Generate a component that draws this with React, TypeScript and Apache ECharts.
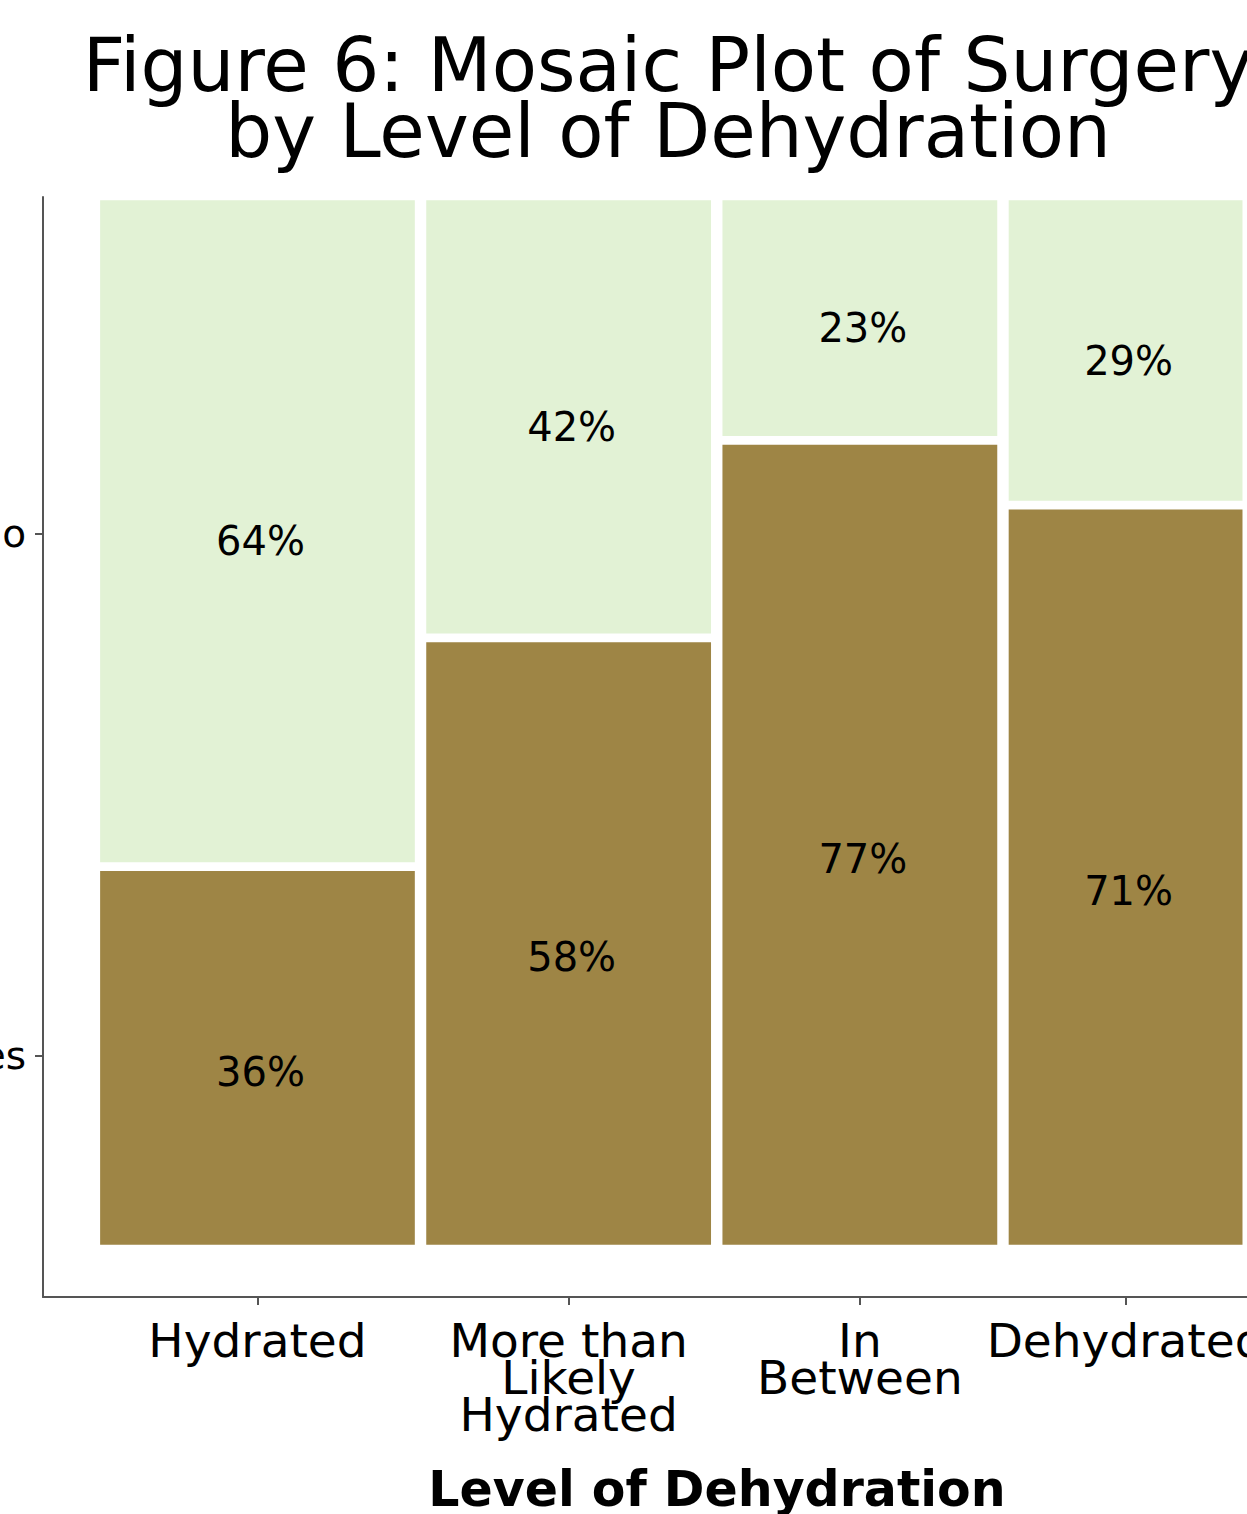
import React, { useEffect, useRef } from "react";
import * as echarts from "echarts";

// ---- Data ----
const categories = ["Hydrated", "More than\nLikely\nHydrated", "In\nBetween", "Dehydrated"];
// share of all cases falling in each level of dehydration (column widths)
const columnShare = [0.284, 0.257, 0.248, 0.211];
// proportion of each level with Surgery = "Yes"
const yesShare = [0.362, 0.581, 0.77, 0.708];
const surgeryLevels = ["Yes", "No"];
const titleLines = ["Figure 6: Mosaic Plot of Surgery", "by Level of Dehydration"];
const xAxisTitle = "Level of Dehydration";

// ---- Styling ----
const COLOR_YES = "#9E8545";
const COLOR_NO = "#E2F2D5";
const AXIS_COLOR = "#555555";
const FONT = '"DejaVu Sans", "Noto Sans", sans-serif';
const GAP_X = 0.01;
const GAP_Y = 0.0085;
const YES_LABEL_DY = 16;
const NO_LABEL_DY = 8;

const columns = (() => {
  const usable = 1 - GAP_X * (columnShare.length - 1);
  let x = 0;
  return columnShare.map((s, i) => {
    const w = s * usable;
    const c = [x, x + w, yesShare[i]];
    x += w + GAP_X;
    return c;
  });
})();
const xCenters = columns.map((c) => (c[0] + c[1]) / 2);
const yCenters = [yesShare[0] / 2, (yesShare[0] + 1) / 2];

const nearest = (arr: number[], v: number) => {
  let best = 0;
  for (let i = 1; i < arr.length; i++) {
    if (Math.abs(arr[i] - v) < Math.abs(arr[best] - v)) best = i;
  }
  return best;
};
const pct = (v: number) => Math.round(v * 100) + "%";

export default function App() {
  const ref = useRef<HTMLDivElement>(null);
  useEffect(() => {
    if (!ref.current) return;
    const chart = echarts.init(ref.current, null, { renderer: "svg" });
    const labelStyle = {
      fill: "#000",
      font: `40px ${FONT}`,
      align: "center",
      verticalAlign: "middle",
    };
    chart.setOption({
      animation: false,
      backgroundColor: "#ffffff",
      title: {
        text: titleLines.join("\n"),
        left: 663,
        top: 27,
        textAlign: "center",
        textStyle: {
          fontFamily: FONT,
          fontSize: 74,
          fontWeight: "normal",
          lineHeight: 66,
          color: "#000",
        },
      },
      grid: {
        left: 43,
        top: 197,
        width: 1348,
        height: 1100,
        containLabel: false,
        outerBoundsMode: "none",
      },
      xAxis: {
        type: "value",
        min: -0.05,
        max: 1.13,
        name: xAxisTitle,
        nameLocation: "middle",
        nameGap: 168,
        nameTextStyle: { fontFamily: FONT, fontSize: 49, fontWeight: "bold", color: "#000" },
        axisLine: { show: true, onZero: false, lineStyle: { color: AXIS_COLOR, width: 2 } },
        axisTick: { show: true, length: 8, customValues: xCenters, lineStyle: { color: AXIS_COLOR, width: 2 } },
        axisLabel: {
          customValues: xCenters,
          margin: 25,
          fontFamily: FONT,
          fontSize: 47,
          lineHeight: 37,
          color: "#000",
          formatter: (v: number) => categories[nearest(xCenters, v)],
        },
        splitLine: { show: false },
      },
      yAxis: {
        type: "value",
        min: -0.05,
        max: 1.003,
        axisLine: { show: true, onZero: false, lineStyle: { color: AXIS_COLOR, width: 2 } },
        axisTick: { show: true, length: 8, customValues: yCenters, lineStyle: { color: AXIS_COLOR, width: 2 } },
        axisLabel: {
          customValues: yCenters,
          margin: 17,
          fontFamily: FONT,
          fontSize: 39,
          color: "#000",
          formatter: (v: number) => surgeryLevels[nearest(yCenters, v)],
        },
        splitLine: { show: false },
      },
      series: [
        {
          type: "custom",
          clip: false,
          data: columns,
          encode: { x: [0, 1], y: 2 },
          renderItem: (params: any, api: any) => {
            const x0 = api.value(0);
            const x1 = api.value(1);
            const p = api.value(2);
            const bl = api.coord([x0, 0]);
            const tr = api.coord([x1, 1]);
            const yesTop = api.coord([x0, p - GAP_Y / 2])[1];
            const noBottom = api.coord([x0, p + GAP_Y / 2])[1];
            const yesMid = api.coord([x0, p / 2])[1];
            const noMid = api.coord([x0, (p + 1) / 2])[1];
            const w = tr[0] - bl[0];
            const cx = (bl[0] + tr[0]) / 2 + 3;
            return {
              type: "group",
              children: [
                {
                  type: "rect",
                  shape: { x: bl[0], y: yesTop, width: w, height: bl[1] - yesTop },
                  style: { fill: COLOR_YES },
                },
                {
                  type: "rect",
                  shape: { x: bl[0], y: tr[1], width: w, height: noBottom - tr[1] },
                  style: { fill: COLOR_NO },
                },
                {
                  type: "text",
                  x: cx,
                  y: yesMid + YES_LABEL_DY,
                  style: { ...labelStyle, text: pct(p) },
                },
                {
                  type: "text",
                  x: cx,
                  y: noMid + NO_LABEL_DY,
                  style: { ...labelStyle, text: pct(1 - p) },
                },
              ],
            };
          },
        },
      ],
    });
    return () => chart.dispose();
  }, []);
  return (
    <div
      ref={ref}
      style={{ position: "absolute", left: 0, top: 0, width: 1247, height: 1514, background: "#fff" }}
    />
  );
}
